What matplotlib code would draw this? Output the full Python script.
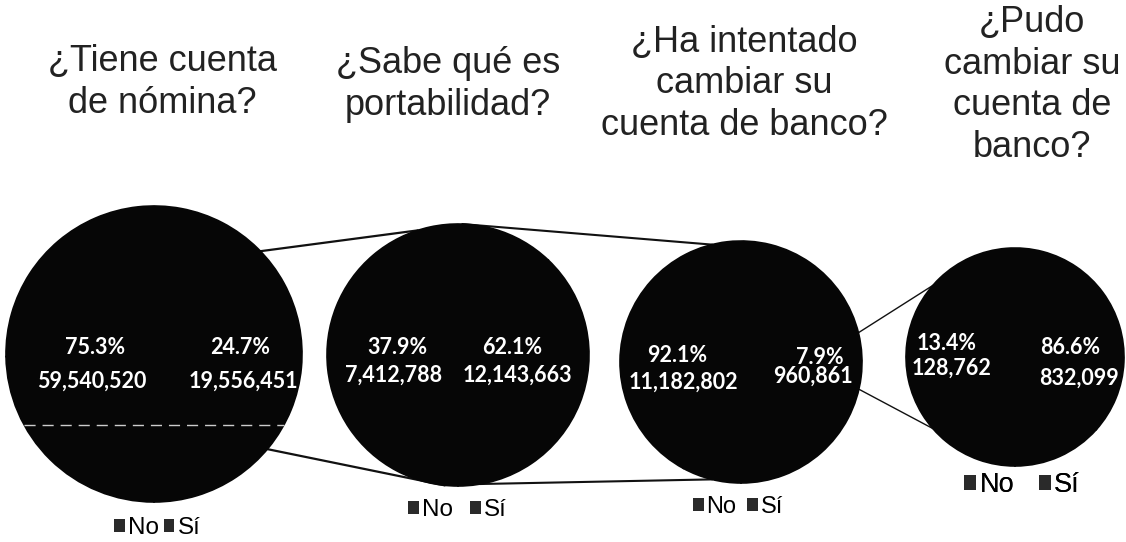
import numpy as np
import matplotlib
matplotlib.use("Agg")
import matplotlib.pyplot as plt
from matplotlib.patches import Patch

# datos
titulos = ["¿Tiene cuenta\nde nómina?",
           "¿Sabe qué es\nportabilidad?",
           "¿Ha intentado\ncambiar su\ncuenta de banco?",
           "¿Pudo\ncambiar su\ncuenta de\nbanco?"]
respuestas = ["No", "Sí"]
valores_no = [59540520, 7412788, 11182802, 128762]
valores_si = [19556451, 12143663, 960861, 832099]

# disposicion (pixeles)
centros = [(154, 354), (458, 355), (741, 362), (1015, 357)]
radios = [148, 131, 121, 109]
# desplazamiento de etiquetas: (dx pct, dy pct, dx cant, dy cant) para No y Sí
etq_no = [(-59, -6, -62, 27), (-61, -7, -64, 20), (-64, -7, -58, 20), (-68, -14, -63, 11)]
etq_si = [(86, -6, 89, 27), (54, -7, 59, 20), (79, -5, 72, 14), (55, -9, 64, 21)]
titulo_x = [162, 448, 744, 1032]
titulo_base = [113, 115, 135, 157]
leyenda_pos = [(157, 528), (457, 510), (738, 507), (1022, 485)]
leyenda_tam = [17.5, 17.5, 17, 19.5]
leyenda_sep = [0.2, 0.7, 0.45, 0.9]
# lineas de conexion: (pie origen, angulo origen, angulo destino, grosor)
conexiones = [(0, 44, 108, 1.6), (0, -40, -96, 1.6),
              (1, 88, 104, 1.5), (1, -80, -104, 1.5),
              (2, 14, 139, 1.0), (2, -13, -139, 1.0)]

negro = "#060606"

fig = plt.figure(figsize=(11.26, 5.42), dpi=100)
ax = fig.add_axes([0, 0, 1, 1])


def punto(i, ang):
    cx, cy = centros[i]
    r = radios[i]
    a = np.radians(ang)
    return cx + r * np.cos(a), cy - r * np.sin(a)


# lineas entre circulos
for i, a1, a2, lw in conexiones:
    x1, y1 = punto(i, a1)
    x2, y2 = punto(i + 1, a2)
    ax.plot([x1, x2], [y1, y2], color="#111111", lw=lw, zorder=1)

for i in range(4):
    ax.pie([valores_no[i], valores_si[i]], colors=[negro, negro],
           center=centros[i], radius=radios[i], frame=True,
           startangle=90, counterclock=False,
           wedgeprops=dict(linewidth=1.2, edgecolor=negro, zorder=2))

    total = valores_no[i] + valores_si[i]
    cx, cy = centros[i]
    for vals, pos in ((valores_no, etq_no), (valores_si, etq_si)):
        dxp, dyp, dxc, dyc = pos[i]
        ax.text(cx + dxp, cy + dyp, f"{vals[i] / total * 100:.1f}%",
                color="white", fontsize=15.5, fontweight="bold",
                family="Lato", ha="center", va="center", zorder=5)
        ax.text(cx + dxc, cy + dyc, f"{vals[i]:,}",
                color="white", fontsize=15.5, fontweight="bold",
                family="Lato", ha="center", va="center", zorder=5)

    ax.text(titulo_x[i], titulo_base[i], titulos[i], fontsize=26,
            family="Liberation Sans", color="#222222", ha="center",
            va="baseline", multialignment="center", linespacing=1.25)

    handles = [Patch(facecolor="#2a2a2a", edgecolor="none"),
               Patch(facecolor="#2a2a2a", edgecolor="none")]
    leg = ax.legend(handles, respuestas, loc="center",
                    bbox_to_anchor=leyenda_pos[i], bbox_transform=ax.transData,
                    ncol=2, frameon=False, handlelength=0.45, handleheight=0.45,
                    handletextpad=0.12, columnspacing=leyenda_sep[i],
                    borderpad=0, prop={"family": "Liberation Sans", "size": leyenda_tam[i]})
    ax.add_artist(leg)

# linea blanca discontinua del escaneo en el primer circulo
cx, cy = centros[0]
r = radios[0]
dy = 0.48 * r
mitad = np.sqrt(r ** 2 - dy ** 2)
ax.plot([cx - mitad, cx + mitad], [cy + dy, cy + dy], color="white",
        lw=1, ls=(0, (8, 5)), alpha=0.8, zorder=4)

ax.set_xlim(0, 1126)
ax.set_ylim(542, 0)
ax.set_aspect("equal")
ax.axis("off")

fig.savefig("out.png", dpi=100)
